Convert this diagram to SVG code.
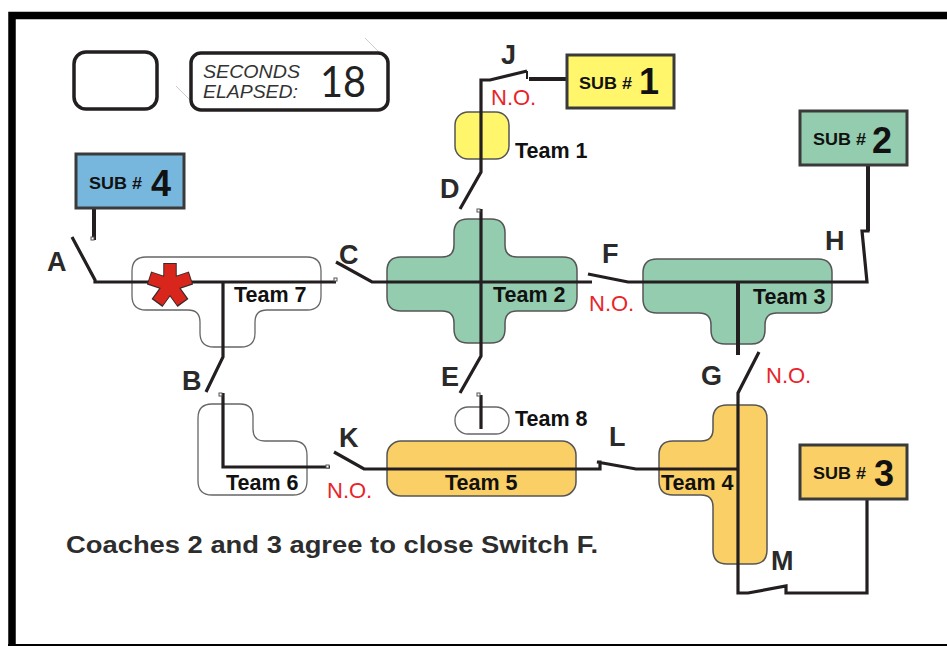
<svg xmlns="http://www.w3.org/2000/svg" width="947" height="646" viewBox="0 0 947 646">
<style>
text{font-family:"Liberation Sans",Arial,sans-serif}
.team{stroke:#555;stroke-width:1.5}
.out{fill:#fff;stroke:#666;stroke-width:1.3}
.g{fill:#93CCAE}.o{fill:#F9CF66}.y{fill:#FFF66B}.b{fill:#77B7DD}
.sub{stroke:#3a3a3a;stroke-width:3}
.subt{font-weight:bold;font-size:17px;fill:#111}
.subn{font-weight:bold;font-size:36px;fill:#111}
.tl{font-weight:bold;font-size:21.500px;fill:#111}
.sw{font-weight:bold;font-size:27px;fill:#2a2a2a}
.no{font-size:22px;fill:#E8252B}
.w{fill:none;stroke:#231F20;stroke-width:3.2}
.t{fill:#fff;stroke:#555;stroke-width:1}
</style>
<rect width="947" height="646" fill="#fff"/>
<g id="frame"><path d="M947 15.500H12V646" fill="none" stroke="#000" stroke-width="7.500"/><rect x="8" y="644" width="939" height="2" fill="#000"/></g>
<g id="display-blank"><rect x="74" y="52" width="83" height="57" rx="12" fill="#fff" stroke="#231F20" stroke-width="3.500"/></g>
<g id="display-timer">
<path d="M365 38L379 52M176 86L190 100" stroke="#ccc" stroke-width="1" fill="none"/>
<rect x="191" y="53" width="197" height="57" rx="10" fill="#fff" stroke="#231F20" stroke-width="3.500"/>
<text x="203" y="78" font-size="17.500" font-style="italic" fill="#333" textLength="97" lengthAdjust="spacingAndGlyphs">SECONDS</text>
<text x="203" y="98" font-size="17.500" font-style="italic" fill="#333" textLength="95" lengthAdjust="spacingAndGlyphs">ELAPSED:</text>
<text x="320" y="97" font-size="43" style="font-family:'Lato','Liberation Sans',sans-serif;font-weight:400" fill="#222" textLength="46" lengthAdjust="spacingAndGlyphs">18</text>
</g>
<g id="team7"><path class="out" d="M146 257H307Q321 257 321 271V296Q321 310 307 310H267Q255 310 255 322V333Q255 347 241 347H214Q200 347 200 333V322Q200 310 188 310H146Q132 310 132 296V271Q132 257 146 257Z"/><text class="tl" x="234" y="302">Team 7</text></g>
<g id="team2"><path class="team g" d="M468 219H491Q505 219 505 233V245Q505 257 517 257H563Q577 257 577 271V297Q577 311 563 311H517Q505 311 505 323V329Q505 343 491 343H468Q454 343 454 329V323Q454 311 442 311H401Q387 311 387 297V271Q387 257 401 257H442Q454 257 454 245V233Q454 219 468 219Z"/><text class="tl" x="493" y="302">Team 2</text></g>
<g id="team3"><path class="team g" d="M657 259H818Q832 259 832 273V299Q832 313 818 313H777Q765 313 765 325V330Q765 344 751 344H725Q711 344 711 330V325Q711 313 699 313H657Q643 313 643 299V273Q643 259 657 259Z"/><text class="tl" x="753" y="304">Team 3</text></g>
<g id="team1"><rect class="team y" x="455" y="112" width="54" height="47" rx="13"/><text class="tl" x="515" y="158">Team 1</text></g>
<g id="team8"><rect class="out" x="455" y="407" width="54" height="27" rx="13"/><text class="tl" x="515" y="426">Team 8</text></g>
<g id="team6"><path class="out" d="M212 404H240Q253 404 253 417V429Q253 441 265 441H293Q307 441 307 455V481Q307 495 293 495H212Q198 495 198 481V418Q198 404 212 404Z"/><text class="tl" x="226" y="490">Team 6</text></g>
<g id="team5"><rect class="team o" x="387" y="441" width="189" height="55" rx="14"/><text class="tl" x="445" y="490">Team 5</text></g>
<g id="team4"><path class="team o" d="M727 405H753Q767 405 767 419V550Q767 564 753 564H727Q713 564 713 550V507Q713 495 701 495H673Q659 495 659 481V455Q659 441 673 441H701Q713 441 713 429V419Q713 405 727 405Z"/><text class="tl" x="661" y="490">Team 4</text></g>
<g id="connectors">
<path class="w" d="M72 237L95 280V282H336"/>
<path class="w" d="M223 282V357L206 392M223 393V467H330"/>
<path class="w" d="M336 262L372 282H592"/>
<path class="w" d="M588 274L628 282H867L862 231H868V165"/>
<path class="w" d="M527 71L490 80H481V172L460 209"/>
<path class="w" d="M481 209V356L460 393M481 395V429"/>
<path class="w" d="M759 352L738 393V593H748L786 586V593H867V499"/>
<path class="w" d="M334 452L364 469H600V462H597L636 469H738"/>
<path d="M529 79H567M868 165V231M94 208V240M738 282V355" stroke="#231F20" stroke-width="4" fill="none"/>
<path d="M527 71V79" stroke="#231F20" stroke-width="2" fill="none"/>
<rect class="t" x="91" y="237" width="3" height="3"/><rect class="t" x="334" y="278" width="3" height="3"/><rect class="t" x="219" y="393" width="3" height="3"/><rect class="t" x="326" y="465" width="3" height="3"/><rect class="t" x="477" y="209" width="3" height="3"/><rect class="t" x="477" y="393" width="3" height="3"/>
</g>
<g id="fault-star">
<path d="M170 285V263M170 285L191 278M170 285L183 303M170 285L157 303M170 285L149 278" stroke="#3a2a2a" stroke-width="13.500" fill="none"/>
<path d="M170 285V264M170 285L190 278M170 285L182 302M170 285L158 302M170 285L150 278" stroke="#D9261C" stroke-width="11.500" fill="none"/>
</g>
<g id="sub1"><rect class="sub y" x="567" y="55" width="107" height="53"/><text class="subt" x="579" y="89" textLength="53" lengthAdjust="spacingAndGlyphs">SUB #</text><text class="subn" x="639" y="94">1</text></g>
<g id="sub2"><rect class="sub g" x="800" y="111" width="107" height="54"/><text class="subt" x="813" y="145" textLength="53" lengthAdjust="spacingAndGlyphs">SUB #</text><text class="subn" x="872" y="153">2</text></g>
<g id="sub3"><rect class="sub o" x="800" y="445" width="107" height="54"/><text class="subt" x="813" y="479" textLength="53" lengthAdjust="spacingAndGlyphs">SUB #</text><text class="subn" x="874" y="486">3</text></g>
<g id="sub4"><rect class="sub b" x="76" y="154" width="108" height="54"/><text class="subt" x="89" y="189" textLength="53" lengthAdjust="spacingAndGlyphs">SUB #</text><text class="subn" x="151" y="196">4</text></g>
<g id="labels">
<text class="sw" x="47" y="271">A</text><text class="sw" x="182" y="390">B</text><text class="sw" x="339" y="264">C</text><text class="sw" x="440" y="198">D</text><text class="sw" x="441" y="386">E</text><text class="sw" x="602" y="263">F</text><text class="sw" x="701" y="385">G</text><text class="sw" x="825" y="250">H</text><text class="sw" x="501" y="64">J</text><text class="sw" x="339" y="447">K</text><text class="sw" x="609" y="446">L</text><text class="sw" x="771" y="570">M</text>
<text class="no" x="491" y="105">N.O.</text><text class="no" x="589" y="311">N.O.</text><text class="no" x="766" y="383">N.O.</text><text class="no" x="327" y="498">N.O.</text>
<text x="66" y="553" font-size="23" font-weight="bold" fill="#2d2d2d" textLength="532" lengthAdjust="spacingAndGlyphs">Coaches 2 and 3 agree to close Switch F.</text>
</g>
</svg>
